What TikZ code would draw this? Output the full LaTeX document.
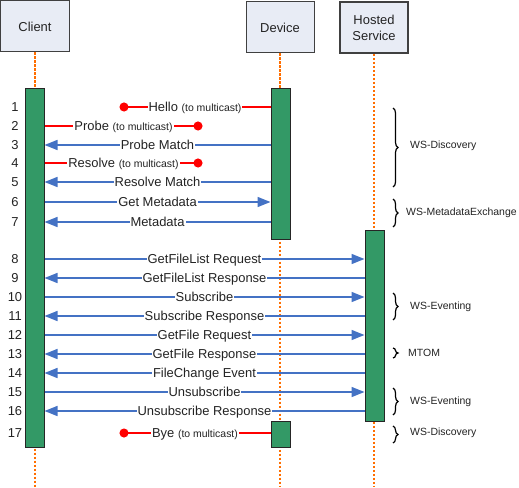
\documentclass[tikz,border=0pt]{standalone}
\usepackage{fontspec}
\setmainfont{Liberation Sans}
\usetikzlibrary{arrows.meta,decorations.pathreplacing}

\definecolor{bargreen}{RGB}{51,153,102}
\definecolor{msgblue}{RGB}{68,114,196}
\definecolor{mcred}{RGB}{255,0,0}
\definecolor{lifeorange}{RGB}{255,110,0}
\definecolor{headfill}{RGB}{232,236,245}
\definecolor{inktext}{RGB}{35,35,35}

\tikzset{
  head/.style={draw=black!75, fill=headfill, line width=1bp, minimum width=68bp,
    minimum height=51bp, inner sep=0pt, align=center, text=inktext, font=\fontsize{13}{16}\selectfont},
  lifeline/.style={lifeorange, line width=1.3bp, dash pattern=on 2.5bp off 1.5bp},
  actbar/.style={draw=black!85, fill=bargreen, line width=1bp, minimum width=19bp, inner sep=0pt},
  msg/.style={msgblue, line width=1.5bp, -{Triangle[length=13bp,width=10bp]}},
  mcast/.style={mcred, line width=1.5bp, -{Circle[length=9bp]}},
  msglabel/.style={fill=white, text=inktext, inner xsep=1bp, inner ysep=2bp, text height=9.5bp,
    text depth=0bp, font=\fontsize{13}{15}\selectfont},
  rownum/.style={text=inktext, font=\fontsize{13}{15}\selectfont, inner sep=0pt},
  grp/.style={decorate, decoration={brace, amplitude=5bp}, line width=1.2bp},
  grplabel/.style={anchor=west, inner sep=0pt, text=inktext, font=\fontsize{10.5}{12}\selectfont}
}
\newcommand{\tomc}{{\fontsize{10.5}{12}\selectfont(to multicast)}}

\begin{document}
\begin{tikzpicture}[x=1bp, y=-1bp]
  \useasboundingbox (0,0) rectangle (519,488);

  % headers
  \node[head] (client) at (35,26.5) {Client};
  \node[head] (device) at (280,27.5) {Device};
  \node[head, line width=1.8bp] (hosted) at (374,27.5) {Hosted\\Service};

  % lifelines
  \coordinate (clientend) at (35,487);
  \coordinate (deviceend) at (280,487);
  \coordinate (hostedend) at (374,487);
  \draw[lifeline] (client.south) -- (clientend);
  \draw[lifeline] (device.south) -- (deviceend);
  \draw[lifeline] (hosted.south) -- (hostedend);

  % activation bars
  \node[actbar, minimum height=358bp] (cbar) at (34.5,268) {};
  \node[actbar, minimum height=150bp] (dbar) at (280.5,164) {};
  \node[actbar, minimum height=26bp] (dbye) at (280.5,434) {};
  \node[actbar, minimum height=190bp] (hbar) at (374.5,326) {};

  % row numbers
  \foreach \n/\y in {1/107,2/126,3/145,4/163,5/182,6/202,7/222,8/259,9/278,
      10/297,11/316,12/335,13/354,14/373,15/392,16/411,17/433} {
    \coordinate (r\n) at (0,\y);
    \node[rownum] (n\n) at (15,\y) {\n};
  }

  % WS-Discovery / WS-MetadataExchange
  \coordinate (hellodot) at (119.5,107);
  \coordinate (probedot) at (202.5,126);
  \coordinate (resolvedot) at (202.5,163);
  \coordinate (byedot) at (119.5,433);
  \draw[mcast] (dbar.west |- r1) -- (hellodot) node[msglabel, midway] {Hello \tomc};
  \draw[mcast] (cbar.east |- r2) -- (probedot) node[msglabel, midway] {Probe \tomc};
  \draw[msg] (dbar.west |- r3) -- (cbar.east |- r3) node[msglabel, midway] {Probe Match};
  \draw[mcast] (cbar.east |- r4) -- (resolvedot) node[msglabel, midway] {Resolve \tomc};
  \draw[msg] (dbar.west |- r5) -- (cbar.east |- r5) node[msglabel, midway] {Resolve Match};
  \draw[msg] (cbar.east |- r6) -- (dbar.west |- r6) node[msglabel, midway] {Get Metadata};
  \draw[msg] (dbar.west |- r7) -- (cbar.east |- r7) node[msglabel, midway] {Metadata};

  % hosted service
  \draw[msg] (cbar.east |- r8) -- (hbar.west |- r8) node[msglabel, midway] {GetFileList Request};
  \draw[msg] (hbar.west |- r9) -- (cbar.east |- r9) node[msglabel, midway] {GetFileList Response};
  \draw[msg] (cbar.east |- r10) -- (hbar.west |- r10) node[msglabel, midway] {Subscribe};
  \draw[msg] (hbar.west |- r11) -- (cbar.east |- r11) node[msglabel, midway] {Subscribe Response};
  \draw[msg] (cbar.east |- r12) -- (hbar.west |- r12) node[msglabel, midway] {GetFile Request};
  \draw[msg] (hbar.west |- r13) -- (cbar.east |- r13) node[msglabel, midway] {GetFile Response};
  \draw[msg] (hbar.west |- r14) -- (cbar.east |- r14) node[msglabel, midway] {FileChange Event};
  \draw[msg] (cbar.east |- r15) -- (hbar.west |- r15) node[msglabel, midway] {Unsubscribe};
  \draw[msg] (hbar.west |- r16) -- (cbar.east |- r16) node[msglabel, midway] {Unsubscribe Response};
  \draw[mcast] (dbye.west |- r17) -- (byedot) node[msglabel, midway] {Bye \tomc};

  % protocol groups
  \draw[grp] (393,108) -- (393,187);
  \node[grplabel] (g1) at (410,146) {WS-Discovery};
  \draw[grp] (393,199) -- (393,227);
  \node[grplabel] (g2) at (406,213) {WS-MetadataExchange};
  \draw[grp] (393,293) -- (393,320);
  \node[grplabel] (g3) at (410,307) {WS-Eventing};
  \draw[grp] (393,348) -- (393,358);
  \node[grplabel] (g4) at (408,353) {MTOM};
  \draw[grp] (393,388) -- (393,415);
  \node[grplabel] (g5) at (410,402) {WS-Eventing};
  \draw[grp] (393,426) -- (393,443);
  \node[grplabel] (g6) at (410,433) {WS-Discovery};
\end{tikzpicture}
\end{document}
